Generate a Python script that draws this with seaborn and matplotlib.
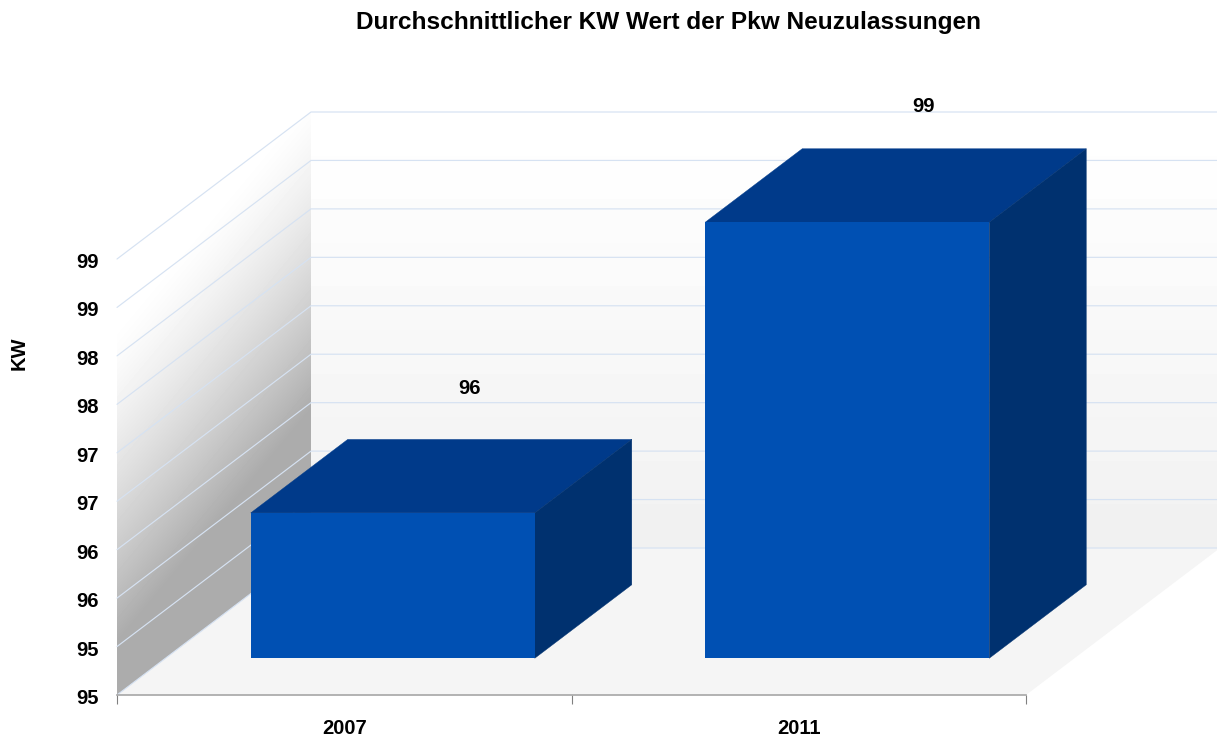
import numpy as np
import pandas as pd
import matplotlib
matplotlib.use("Agg")
import matplotlib.pyplot as plt
from matplotlib.patches import Polygon
from matplotlib.transforms import Affine2D
import seaborn as sns

# --- data ---
title = "Durchschnittlicher KW Wert der Pkw Neuzulassungen"
y_title = "KW"
years = ["2007", "2011"]
values = [96.1, 99.1]
value_labels = ["96", "99"]
y_ticks = [94.6, 95.1, 95.6, 96.1, 96.6, 97.1, 97.6, 98.1, 98.6, 99.1]
y_tick_labels = ["95", "95", "96", "96", "97", "97", "98", "98", "99", "99"]

# --- style ---
W, H = 1217, 738
DEPTH = np.array([194.0, 147.0])      # pixels of the 3D depth vector
BAR_FRONT, BAR_BACK = 0.25, 0.75      # share of depth where bars sit
FRONT, TOP, SIDE = "#0050b3", "#003a8a", "#00316f"
GRID = "#d6e2f2"
FONT = "Liberation Sans"
LABEL_SIZE = 14.5

sns.set_theme(style="white")
plt.rcParams["font.family"] = [FONT, "DejaVu Sans"]
plt.rcParams["font.weight"] = "bold"

fig = plt.figure(figsize=(W / 100, H / 100), dpi=100, facecolor="white")
L, R, B, T = 117, 1026, H - 695, H - 259

bg = fig.add_axes([0, 0, 1, 1], zorder=0)
bg.set_xlim(0, W); bg.set_ylim(0, H); bg.axis("off")
ax = fig.add_axes([L / W, B / H, (R - L) / W, (T - B) / H], zorder=1)
ax.patch.set_alpha(0)

df = pd.DataFrame({"year": years, "kw": values})
sns.barplot(data=df, x="year", y="kw", color=FRONT, saturation=1, width=0.625,
            ax=ax, zorder=3, linewidth=0)
base = y_ticks[0]
ax.set_xlim(-0.5, len(years) - 0.5)
ax.set_ylim(base, y_ticks[-1])


def px(x, y):
    return ax.transData.transform((x, y))


# --- walls and floor, built from the axes scale ---
p0 = px(-0.5, base); p1 = px(len(years) - 0.5, base)
top_back = px(-0.5, y_ticks[-1]) + DEPTH
bg.add_patch(Polygon([p0, p1, p1 + DEPTH, p0 + DEPTH], fc="#f5f5f5", ec="none", zorder=1))

yy, xx = np.mgrid[0:H, 0:W]
t = np.clip((yy - 320.0 + (xx - p0[0]) * 1.2) / 320.0, 0, 1) ** 1.4
im = bg.imshow(255 - 83 * t, cmap="gray", vmin=0, vmax=255, extent=(0, W, 0, H),
               origin="upper", aspect="auto", zorder=1.5, interpolation="bilinear")
side_poly = Polygon([p0, p0 + DEPTH, top_back, px(-0.5, y_ticks[-1])],
                    transform=bg.transData, fc="none", ec="none")
bg.add_patch(side_poly)
im.set_clip_path(side_poly)

# back wall: banded vertical gradient
bw = 255 - 14 * np.linspace(0, 1, 10)[:, None]
bg.imshow(bw, cmap="gray", vmin=0, vmax=255,
          extent=(p0[0] + DEPTH[0], p1[0] + DEPTH[0], p0[1] + DEPTH[1], top_back[1]),
          origin="upper", aspect="auto", zorder=1.4, interpolation="nearest")
bg.set_xlim(0, W); bg.set_ylim(0, H)

# gridlines on both walls
for v in y_ticks:
    a = px(-0.5, v); b = a + DEPTH; c = np.array([W, b[1]])
    bg.plot([a[0], b[0], c[0]], [a[1], b[1], c[1]], color=GRID, lw=0.85, zorder=2,
            solid_joinstyle="miter")

# --- 3D bars: front faces from seaborn, top and side derived from them ---
shift_f = DEPTH * BAR_FRONT
shift_b = DEPTH * BAR_BACK
front_tf = ax.transData + Affine2D().translate(*shift_f)
for patch, v in zip(ax.patches, values):
    patch.set_y(base)
    patch.set_height(v - base)
    x0 = patch.get_x(); x1 = x0 + patch.get_width()
    patch.set_transform(front_tf)
    patch.set_clip_on(False)
    fl, fr = px(x0, v) + shift_f, px(x1, v) + shift_f
    br = px(x1, base) + shift_f
    d = shift_b - shift_f
    bg.add_patch(Polygon([fl, fr, fr + d, fl + d], fc=TOP, ec=TOP, lw=0.3, zorder=3))
    bg.add_patch(Polygon([fr, fr + d, br + d, br], fc=SIDE, ec=SIDE, lw=0.3, zorder=3))

# --- labels above bars ---
label_offsets = [(125, 161), (124.5, 152)]
for i, (v, lab, (dx, dy)) in enumerate(zip(values, value_labels, label_offsets)):
    ax.annotate(lab, xy=(i, v), xytext=(dx * 0.72, dy * 0.72), textcoords="offset points",
                ha="center", va="center", fontsize=LABEL_SIZE, fontweight="bold", color="black",
                annotation_clip=False)

# --- axes furniture ---
sns.despine(ax=ax, left=True, top=True, right=True)
ax.spines["bottom"].set_color("#a6a6a6")
ax.spines["bottom"].set_linewidth(1.2)
ax.set_xticks([-0.5, 0.5, 1.5], labels=["", "", ""])
ax.set_xticks([0, 1], labels=years, minor=True)
ax.tick_params(axis="x", which="major", length=6.5, width=0.8, color="#808080", bottom=True)
ax.tick_params(axis="x", which="minor", length=0, pad=17, labelsize=LABEL_SIZE)
ax.set_yticks(y_ticks, labels=y_tick_labels)
ax.tick_params(axis="y", length=0, pad=13, labelsize=LABEL_SIZE)
for lab in ax.get_yticklabels():
    lab.set_fontweight("bold")
    lab.set_color("black")
    lab.set_transform(lab.get_transform() + Affine2D().translate(0, -1.5))
for lab in ax.get_xticklabels(minor=True):
    lab.set_fontweight("bold")
    lab.set_color("black")
ax.set_xlabel("")
ax.set_ylabel(y_title, fontsize=LABEL_SIZE, fontweight="bold", color="black")
ax.yaxis.set_label_coords((28.5 - L) / (R - L), ((H - 353.5) - B) / (T - B))
fig.text(668.5 / W, (H - 22) / H, title, ha="center", va="center", fontsize=17.6,
         fontweight="bold", color="black")

fig.savefig("out.png", dpi=100, facecolor="white")
